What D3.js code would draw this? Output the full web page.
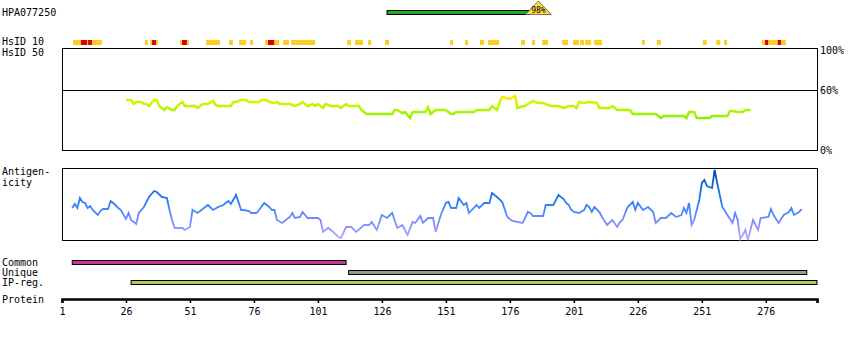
<!DOCTYPE html>
<html><head><meta charset="utf-8">
<script src="https://cdn.jsdelivr.net/npm/d3@7"></script>
<style>body{margin:0;background:#fff}text{font-family:"DejaVu Sans Mono",monospace;font-size:10px;fill:#000}</style>
</head><body><svg id="c" width="850" height="340"></svg>
<script>
// ---------- data ----------
const title = "HPA077250";
const proteinLength = 295;
const axisTicks = [1,26,51,76,101,126,151,176,201,226,251,276];
const antigenRegion = [128,184];
const antigenIdentity = "98%";
// HsID 10 blocks (residue ranges)
const hsid10Yellow = [[5.3,16.6],[33.4,34.6],[35.4,38.5],[47.1,50.6],[57.3,62.7],[66.3,67.8],[70.2,72.9],[74.5,75.6],[80.3,85.8],[87.4,89.7],[90.5,99.9],[112.4,113.9],[115.5,118.6],[120.6,121.8],[127.2,128.8],[152.6,153.8],[158.5,159.7],[164.3,165.9],[167.5,171.8],[180.4,181.9],[184.7,185.8],[188.6,190.9],[196.4,198.7],[200.7,203.0],[203.4,205.0],[205.4,207.7],[208.9,212.0],[227.6,228.7],[233.4,235.0],[251.4,252.9],[256.6,258.2],[259.7,260.9],[274.5,283.9]];
const hsid10Red = [[8.4,10.8],[11.2,12.7],[36.2,37.7],[47.9,49.8],[81.5,83.9],[275.7,276.9],[280.7,281.9]];
// identity (%)
const idRes = [26,28,29,30,32,33,34,35,37,38,39,41,42,44,45,46,48,49,53,54,56,58,60,61,62,67,68,69,71,73,74,78,79,81,82,84,85,86,90,92,94,95,97,99,100,101,103,104,106,109,110,112,113,117,118,120,130,131,132,134,135,137,138,143,144,145,147,151,153,154,155,162,163,168,169,171,172,173,176,178,179,181,182,183,185,187,189,192,195,197,199,201,202,203,205,207,210,211,215,216,218,223,224,233,235,236,244,245,246,248,249,254,255,261,262,263,265,267,268,270];
const idVal = [50,50,46,48,48,46,46,44,50,50,44,40,43,40,40,44,48,44,44,42,46,46,49,45,44,44,48,48,50,50,48,48,50,50,48,47,48,46,46,44,46,48,44,46,44,46,42,46,44,44,42,46,44,44,40,36,36,40,40,37,38,32,38,38,43,36,40,40,36,36,38,38,40,40,44,40,48,53,51,54,42,44,44,46,49,47,47,44,44,42,44,44,42,48,47,48,47,42,42,44,40,40,36,36,32,34,34,32,38,38,32,32,34,34,39,39,38,38,40,40];
// antigenicity
const agRes = [5,6,7,8,9,10,11,12,13,15,16,17,19,20,21,23,24,26,27,28,30,31,33,35,37,38,40,42,43,44,45,48,49,51,52,54,56,58,60,62,64,66,67,69,71,72,74,75,77,78,80,82,83,84,85,87,89,90,91,92,94,95,97,101,102,103,105,107,109,110,112,114,116,119,121,122,124,126,128,130,132,134,136,138,139,141,142,144,146,147,149,151,152,153,155,156,158,159,160,163,164,166,168,169,171,173,175,177,181,183,184,185,189,190,192,193,195,197,198,199,200,201,203,205,206,207,208,209,211,212,214,216,218,219,220,222,224,225,226,228,230,232,233,235,237,239,241,243,244,245,246,247,248,250,251,252,253,255,256,257,259,261,263,264,265,266,267,268,269,271,273,274,277,278,279,281,283,285,286,287,289,290];
const agVal = [32,36,32,42,38,37,32,34,30,25,29,31,31,39,37,32,30,21,27,20,16,27,33,43,49,48,43,42,30,20,12,12,10,13,30,27,31,35,30,33,35,39,36,45,30,30,29,27,27,30,37,33,30,30,20,17,21,23,27,22,23,28,22,22,20,8,12,8,3,2,13,13,8,15,15,18,10,25,22,27,12,15,5,18,17,24,17,22,22,8,25,37,38,32,32,42,35,37,27,35,32,37,37,47,43,38,23,19,17,28,27,24,24,35,35,35,45,41,37,35,30,28,27,30,35,33,28,33,28,23,15,20,13,18,20,33,38,30,37,30,33,28,17,22,22,27,23,25,32,27,37,15,20,40,57,60,54,52,70,57,33,25,17,27,20,1,5,10,0,20,10,22,23,31,25,17,25,28,32,25,28,31];
// region bars
const regionNames = ["Common","Unique","IP-reg."];
const regionRanges = [[5,112],[113,292],[28,296]];
const regionColors = ["#cc3399","#999999","#aacc55"];

// ---------- drawing ----------
const svg = d3.select("#c");
const x = d3.scaleLinear().domain([1, proteinLength + 1]).range([62, 817]);
const yId = d3.scaleLinear().domain([0, 100]).range([150, 50]);
const yAg = d3.scaleLinear().domain([0, 72]).range([240, 168]);

function grad(id, yScale, stops) {
  const lo = stops[0][0], hi = stops[stops.length-1][0];
  const g = svg.append("defs").append("linearGradient").attr("id", id)
    .attr("gradientUnits","userSpaceOnUse").attr("x1",0).attr("x2",0)
    .attr("y1", yScale(lo)).attr("y2", yScale(hi));
  stops.forEach(s => g.append("stop").attr("offset", (s[0]-lo)/(hi-lo)).attr("stop-color", s[1]));
}
grad("gId", yId, [[30,"#88ee00"],[38,"#a6f500"],[46,"#ccf500"],[50,"#ddf000"],[54,"#ffee00"]]);
grad("gAg", yAg, [[0,"#bbaaff"],[10,"#9999ff"],[20,"#7788ff"],[30,"#4488ff"],[42,"#2277ee"],[55,"#1166dd"],[70,"#0044aa"]]);

// labels
const lab = (t, tx, ty) => svg.append("text").attr("x", tx).attr("y", ty).text(t);
lab(title, 2, 16);
lab("HsID 10", 2, 45);
lab("HsID 50", 2, 56);
lab("Antigen-", 2, 175);
lab("icity", 2, 186);
regionNames.forEach((n,i) => lab(n, 2, 266 + i*10));
lab("Protein", 2, 303);

// top antigen bar
svg.append("rect").attr("x", x(antigenRegion[0])).attr("y", 10.5)
  .attr("width", x(antigenRegion[1]) - x(antigenRegion[0])).attr("height", 4)
  .attr("fill", "#22aa22").attr("stroke", "#000").attr("stroke-width", 1);
const tc = x(antigenRegion[1]) + 8;
svg.append("path").attr("d", `M${tc-13},14.5L${tc},1L${tc+13},14.5Z`)
  .attr("fill", "#ffdd44").attr("stroke", "#555").attr("stroke-width", 0.8);
svg.append("text").attr("x", tc).attr("y", 13).attr("text-anchor","middle")
  .style("font-size","8px").text(antigenIdentity);

// HsID 10 blocks
svg.selectAll("rect.y10").data(hsid10Yellow).join("rect").attr("class","y10")
  .attr("x", d => x(d[0])).attr("width", d => x(d[1]) - x(d[0]))
  .attr("y", 40).attr("height", 5).attr("fill", "#ffcc22");
svg.selectAll("rect.r10").data(hsid10Red).join("rect").attr("class","r10")
  .attr("x", d => x(d[0])).attr("width", d => x(d[1]) - x(d[0]))
  .attr("y", 40).attr("height", 5).attr("fill", "#dd0000");

// identity box
svg.append("rect").attr("x", 62.5).attr("y", 48.5).attr("width", 755).attr("height", 102)
  .attr("fill","none").attr("stroke","#000");
svg.append("line").attr("x1", 62).attr("x2", 817).attr("y1", Math.round(yId(60))+0.5).attr("y2", Math.round(yId(60))+0.5)
  .attr("stroke","#000");
[[100,"100%"],[60,"60%"],[0,"0%"]].forEach(d => {
  svg.append("text").attr("x", 820).attr("y", yId(d[0]) + 4).text(d[1]);
});
const idData = idRes.map((r,i) => [r, idVal[i]]);
svg.append("path").datum(idData)
  .attr("d", d3.line().x(d => x(d[0])).y(d => yId(d[1])))
  .attr("fill","none").attr("stroke","url(#gId)").attr("stroke-width", 2.5);

// antigenicity box
svg.append("rect").attr("x", 62.5).attr("y", 168.5).attr("width", 755).attr("height", 72)
  .attr("fill","none").attr("stroke","#000");
const agData = agRes.map((r,i) => [r, agVal[i]]);
svg.append("path").datum(agData)
  .attr("d", d3.line().x(d => x(d[0])).y(d => yAg(d[1])))
  .attr("fill","none").attr("stroke","url(#gAg)").attr("stroke-width", 1.8);

// region bars
svg.selectAll("rect.reg").data(regionRanges).join("rect").attr("class","reg")
  .attr("x", d => x(d[0])).attr("width", d => x(d[1]) - x(d[0]))
  .attr("y", (d,i) => 260.5 + i*10).attr("height", 4)
  .attr("fill", (d,i) => regionColors[i]).attr("stroke","#000").attr("stroke-width",1);

// protein axis
const ax = svg.append("g").attr("transform","translate(0,299)")
  .call(d3.axisBottom(x).tickValues(axisTicks.concat([proteinLength+1]))
    .tickFormat(d => d > proteinLength ? "" : d).tickSizeOuter(0).tickSize(4).tickPadding(5));
ax.select(".domain").attr("stroke","#000").attr("stroke-width",2.5);
ax.selectAll(".tick line").attr("stroke","#000").attr("stroke-width",1.5);
ax.selectAll(".tick text").style("font-family","DejaVu Sans Mono").style("font-size","10px").attr("fill","#000");
</script></body></html>
